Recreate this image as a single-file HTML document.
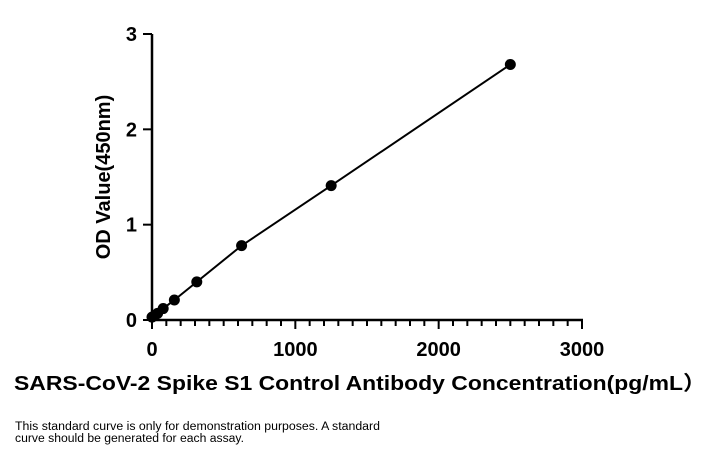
<!DOCTYPE html>
<html><head><meta charset="utf-8"><style>
body{margin:0;background:#fff;width:723px;height:455px;overflow:hidden}
text{font-family:"Liberation Sans","Noto Sans CJK SC",sans-serif}
</style></head><body>
<svg id="c" width="723" height="455">
<text x="15" y="430" font-size="11.5" textLength="365" lengthAdjust="spacingAndGlyphs" fill="#000">This standard curve is only for demonstration purposes. A standard</text>
<text x="15" y="442" font-size="11.5" textLength="229" lengthAdjust="spacingAndGlyphs" fill="#000">curve should be generated for each assay.</text>
</svg>
<script>
const concentrations=[0,19.5,39,78,156,312.5,625,1250,2500];
const odValues=[0.03,0.05,0.07,0.12,0.21,0.40,0.78,1.41,2.68];
const xTicks=[0,1000,2000,3000];
const yTicks=[0,1,2,3];
const X0=152,X1=582,Y0=320,Y1=34;
const xs=v=>X0+(v/3000)*(X1-X0);
const ys=v=>Y0-(v/3)*(Y0-Y1);
const svg=document.getElementById('c');
const NS='http://www.w3.org/2000/svg';
function mk(t,a,p){const e=document.createElementNS(NS,t);for(const k in a)e.setAttribute(k,a[k]);(p||svg).appendChild(e);return e;}
let e;
e=mk('line',{x1:X0,y1:Y1,x2:X0,y2:Y0+1,stroke:'#000','stroke-width':2.5});


e=mk('line',{x1:X0-1,y1:Y0,x2:X1+1,y2:Y0,stroke:'#000','stroke-width':2.5});


for(let v=0;v<=3000;v+=100){const big=v%1000===0;
e=mk('line',{x1:xs(v),y1:Y0,x2:xs(v),y2:Y0+(big?9:6),stroke:'#000','stroke-width':2});

}
xTicks.forEach(v=>{e=mk('text',{x:xs(v),y:Y0+36,'font-size':20,'font-weight':'bold','text-anchor':'middle'});e.textContent=v;

});
yTicks.forEach(v=>{e=mk('line',{x1:X0-9,y1:ys(v),x2:X0,y2:ys(v),stroke:'#000','stroke-width':2});


e=mk('text',{x:X0-15,y:ys(v)+7,'font-size':20,'font-weight':'bold','text-anchor':'end'});e.textContent=v;

});
e=mk('text',{x:0,y:0,'font-size':20,'font-weight':'bold','text-anchor':'middle',transform:'translate(110,177) rotate(-90)'});e.textContent='OD Value(450nm)';


e=mk('text',{x:14,y:390,'font-size':20,'font-weight':'bold',textLength:692,lengthAdjust:'spacingAndGlyphs'});e.textContent='SARS-CoV-2 Spike S1 Control Antibody Concentration(pg/mL）';


e=mk('polyline',{points:concentrations.map((c,i)=>xs(c)+','+ys(odValues[i])).join(' '),fill:'none',stroke:'#000','stroke-width':2});


concentrations.forEach((c,i)=>{e=mk('circle',{cx:xs(c),cy:ys(odValues[i]),r:5.5,fill:'#000'});

});
</script>
</body></html>
